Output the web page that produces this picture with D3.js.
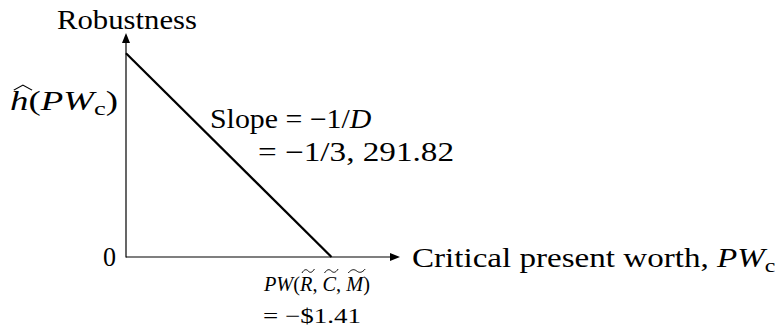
<!DOCTYPE html>
<html>
<head>
<meta charset="utf-8">
<script src="https://cdn.jsdelivr.net/npm/d3@7"></script>
<style>
  body { margin: 0; background: #fff; }
</style>
</head>
<body>
<svg id="chart" width="778" height="331"></svg>
<script>
// Robustness curve: schematic critical present worth vs. robustness
const criticalPW = [0, 75];      // position along the PW_c axis
const robustness = [91, 0];      // robustness at those positions
const axisMax = 100;             // axes run to this value (arrow tips)

// Text pieces: t = text, it = italic, sub = subscript, acc = accent over it
const yTitle = [{ t: "Robustness" }];
const xTitle = [{ t: "Critical present worth, " }, { t: "PW", it: true }, { t: "c", sub: true }];
const hLabel = [{ t: "h", it: true, acc: "hat" }, { t: "(" }, { t: "PW", it: true }, { t: "c", sub: true }, { t: ")" }];
const zeroLabel = [{ t: "0" }];
const slopeLine1 = [{ t: "Slope = −1/" }, { t: "D", it: true }];
const slopeLine2 = [{ t: "= −1/3, 291.82" }];
const pwLine1 = [{ t: "PW", it: true }, { t: "(" }, { t: "R", it: true, acc: "tilde" }, { t: ", " },
                 { t: "C", it: true, acc: "tilde" }, { t: ", " }, { t: "M", it: true, acc: "tilde" }, { t: ")" }];
const pwLine2 = [{ t: "= −$1.41" }];

const FONT = "'Liberation Serif', 'DejaVu Serif', 'Times New Roman', serif";
const svg = d3.select("#chart");

const x = d3.scaleLinear().domain([0, axisMax]).range([126, 400]);
const y = d3.scaleLinear().domain([0, axisMax]).range([257, 33]);

// Axes (no ticks), with arrowheads at the far ends
const arrowLen = 10, arrowHalf = 4;
svg.append("g")
  .attr("transform", `translate(0,${y(0)})`)
  .call(d3.axisBottom(x).ticks(0).tickSizeOuter(0))
  .call(g => g.select(".domain").attr("stroke", "#000").attr("stroke-width", 1.2)
    .attr("d", `M${x(0)},0H${x(axisMax) - arrowLen + 1}`));
svg.append("g")
  .attr("transform", `translate(${x(0)},0)`)
  .call(d3.axisLeft(y).ticks(0).tickSizeOuter(0))
  .call(g => g.select(".domain").attr("stroke", "#000").attr("stroke-width", 1.2)
    .attr("d", `M0,${y(0) + 0.6}V${y(axisMax) + arrowLen - 1}`));

svg.append("path")
  .attr("d", `M${x(axisMax)},${y(0)}L${x(axisMax) - arrowLen},${y(0) - arrowHalf}L${x(axisMax) - arrowLen},${y(0) + arrowHalf}Z`)
  .attr("fill", "#000");
svg.append("path")
  .attr("d", `M${x(0)},${y(axisMax)}L${x(0) - arrowHalf},${y(axisMax) + arrowLen}L${x(0) + arrowHalf},${y(axisMax) + arrowLen}Z`)
  .attr("fill", "#000");

// Robustness line
const pts = criticalPW.map((v, i) => [v, robustness[i]]);
svg.append("path")
  .datum(pts)
  .attr("fill", "none")
  .attr("stroke", "#000")
  .attr("stroke-width", 2.2)
  .attr("d", d3.line().x(d => x(d[0])).y(d => y(d[1])));

// Label helper: builds rich text at (left, baseline), then stretches it to a width
function label(parts, left, baseline, size, width) {
  const g = svg.append("g");
  const text = g.append("text")
    .attr("font-family", FONT)
    .attr("font-size", size)
    .attr("fill", "#000");
  let idx = 0, shifted = false;
  const accents = [];
  parts.forEach(p => {
    const ts = text.append("tspan").text(p.t);
    if (p.it) ts.attr("font-style", "italic");
    if (p.sub) {
      ts.attr("font-size", size * 0.72).attr("dy", size * 0.2);
      shifted = true;
    } else if (shifted) {
      ts.attr("dy", -size * 0.2);
      shifted = false;
    }
    if (p.acc) accents.push({ type: p.acc, index: idx });
    idx += p.t.length;
  });
  const el = text.node();
  accents.forEach(a => {
    const box = el.getExtentOfChar(a.index);
    const slant = size * 0.14;
    const x0 = box.x + slant - 1;
    const x1 = box.x + box.width + slant * 0.7;
    const w = x1 - x0;
    let d;
    if (a.type === "hat") {
      const top = -size * 0.92;
      d = `M${x0},${top + 5}L${(x0 + x1) / 2},${top}L${x1},${top + 5}`;
    } else {
      const top = -size * 1.0;
      d = `M${x0},${top + 4}C${x0 + w * 0.2},${top} ${x0 + w * 0.35},${top} ${x0 + w * 0.5},${top + 2}` +
          `S${x1 - w * 0.2},${top + 4} ${x1},${top}`;
    }
    g.append("path").attr("d", d).attr("fill", "none").attr("stroke", "#000").attr("stroke-width", 1);
  });
  const bb = el.getBBox();
  const sx = width ? width / bb.width : 1;
  g.attr("transform", `translate(${left - bb.x * sx},${baseline}) scale(${sx},1)`);
  return g;
}

label(yTitle, 57, 29, 27, 140);
label(hLabel, 10, 110, 27, 108);
label(zeroLabel, 103, 266, 27, 13);
label(slopeLine1, 210, 128, 27, 162);
label(slopeLine2, 258, 161, 27, 196);
label(xTitle, 412, 267, 27, 364);
label(pwLine1, 263, 291, 22, 107);
label(pwLine2, 263, 323, 21, 98);
</script>
</body>
</html>
